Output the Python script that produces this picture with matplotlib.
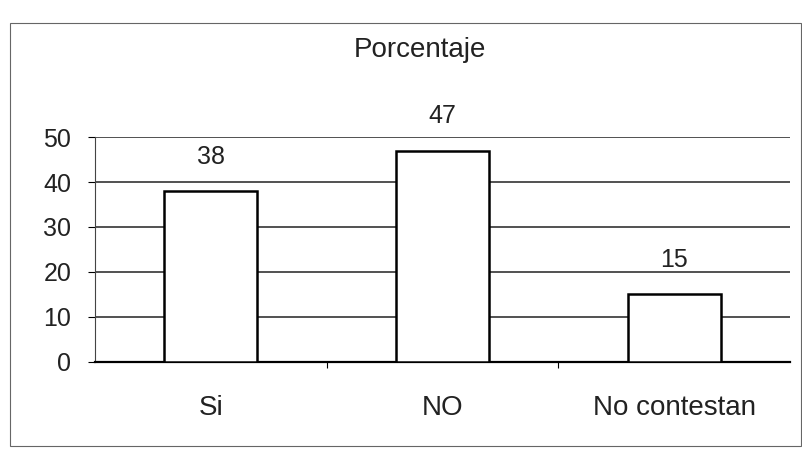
import numpy as np
import matplotlib
matplotlib.use('Agg')
import matplotlib.pyplot as plt
from matplotlib.patches import Rectangle

plt.rcParams['font.family'] = ['Liberation Sans', 'DejaVu Sans']

# Datos del gráfico
categorias = ['Si', 'NO', 'No contestan']
porcentajes = [38, 47, 15]
titulo = 'Porcentaje'
yticks = [0, 10, 20, 30, 40, 50]

fig = plt.figure(figsize=(8.03, 4.51), dpi=100)
ax = fig.add_axes([0.118, 0.198, 0.866, 0.498])

# Marco exterior del gráfico
fig.patches.append(Rectangle((0.013, 0.01), 0.984, 0.94, transform=fig.transFigure,
                             fill=False, edgecolor='#666666', linewidth=0.8))

x = np.arange(len(categorias))
barras = ax.bar(x, porcentajes, width=0.4, color='white', edgecolor='black',
                linewidth=1.8, zorder=3)

for b, v in zip(barras, porcentajes):
    ax.text(b.get_x() + b.get_width() / 2, v + 5, str(v), ha='center', va='bottom',
            fontsize=18, color='#222222')

ax.set_xlim(-0.5, len(categorias) - 0.5)
ax.set_ylim(0, 50)
ax.set_yticks(yticks)
ax.set_yticklabels([str(t) for t in yticks], fontsize=18, color='#222222')
ax.set_xticks(x)
ax.set_xticklabels(categorias, fontsize=20, color='#222222')
ax.tick_params(axis='x', length=0, pad=24)
ax.tick_params(axis='y', length=5, width=0.8, direction='out', pad=12)
ax.set_xticks(np.arange(len(categorias) - 1) + 0.5, minor=True)
ax.tick_params(axis='x', which='minor', length=4, direction='out', width=0.8)

ax.yaxis.grid(True, color='#222222', linewidth=1.1, zorder=0)
ax.set_axisbelow(True)
for s in ['top', 'right']:
    ax.spines[s].set_visible(False)
ax.spines['left'].set_color('#444444')
ax.spines['left'].set_linewidth(0.8)
ax.spines['bottom'].set_linewidth(1.6)

fig.text(0.523, 0.89, titulo, ha='center', va='center', fontsize=20, color='#222222')

plt.savefig('out.png', dpi=100)
